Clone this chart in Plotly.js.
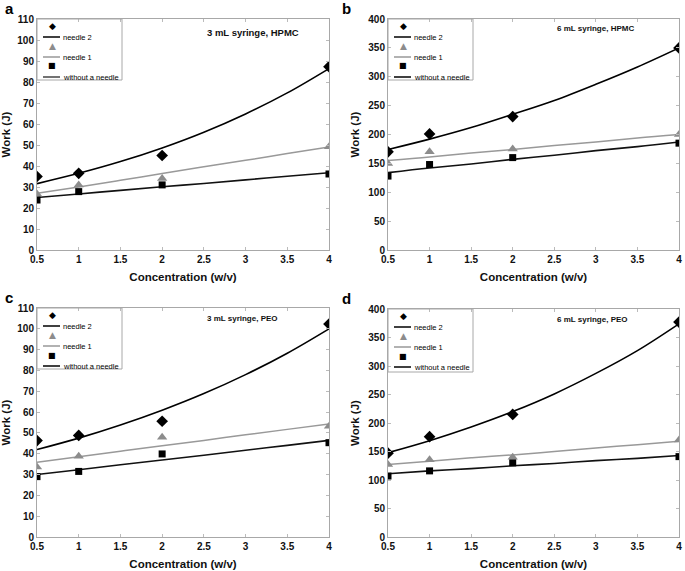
<!DOCTYPE html>
<html>
<head>
<meta charset="utf-8">
<script src="https://cdn.plot.ly/plotly-3.0.1.min.js"></script>
<style>html,body{margin:0;padding:0;background:#fff}#chart{width:685px;height:571px}</style>
</head>
<body>
<div id="chart"></div>
<script>
// ---- data ----
const conc = [0.5, 1, 2, 4];
const fitX = [0.5, 1, 1.5, 2, 2.5, 3, 3.5, 4];
const xTicks = [0.5, 1, 1.5, 2, 2.5, 3, 3.5, 4];
const xTickText = ['0.5', '1', '1.5', '2', '2.5', '3', '3.5', '4'];
const seriesNames = ['needle 2', 'needle 1', 'without a needle'];
const panelLetters = ['a', 'b', 'c', 'd'];
const panelTitles = ['3 mL syringe, HPMC', '6 mL syringe, HPMC', '3 mL syringe, PEO', '6 mL syringe, PEO'];

const a_needle2 = [35, 36.5, 45, 87.3];
const a_needle1 = [26.7, 31, 34, 49.2];
const a_without = [23.8, 27.8, 31, 36.2];
const a_fit_needle2 = [31.6, 36.5, 42.1, 48.6, 56.1, 64.8, 74.8, 86.4];
const a_fit_needle1 = [27, 30, 33.2, 36.4, 39.6, 42.7, 45.9, 49];
const a_fit_without = [25, 26.7, 28.4, 30.1, 31.7, 33.4, 35.1, 36.8];

const b_needle2 = [170, 201, 231, 350];
const b_needle1 = [150, 170, 175, 200];
const b_without = [128, 148, 160, 185];
const b_fit_needle2 = [174, 192, 212, 235, 259, 287, 317, 350];
const b_fit_needle1 = [155, 161, 168, 174, 181, 187, 194, 200];
const b_fit_without = [134, 142, 149, 157, 164, 172, 179, 187];

const c_needle2 = [46.3, 48.8, 55.6, 102.3];
const c_needle1 = [33.6, 38.8, 47.9, 53.2];
const c_without = [29, 31.5, 39.9, 45.3];
const c_fit_needle2 = [42, 47.5, 53.8, 60.9, 68.9, 78, 88.3, 100];
const c_fit_needle1 = [35.9, 38.5, 41.2, 43.8, 46.4, 49.1, 51.7, 54.3];
const c_fit_without = [30, 32.3, 34.7, 37, 39.3, 41.7, 44, 46.4];

const d_needle2 = [147, 176, 215, 377];
const d_needle1 = [127, 135.5, 140, 170];
const d_without = [107, 116, 130, 141];
const d_fit_needle2 = [148, 169, 193, 220, 251, 287, 327, 374];
const d_fit_needle1 = [127, 133, 139, 144, 150, 156, 162, 168];
const d_fit_without = [111, 116, 120, 125, 129, 134, 138, 143];

const yRanges = [[0, 110], [0, 400], [0, 110], [0, 400]];
const yDticks = [10, 50, 10, 50];

// ---- layout geometry (pixels) ----
const W = 685, H = 571;
const boxes = [
  {l: 37, r: 329, t: 19, b: 250},
  {l: 388, r: 679, t: 19, b: 250},
  {l: 37, r: 329, t: 308, b: 537},
  {l: 388, r: 679, t: 309, b: 537}
];
const px = v => v / W;
const py = v => 1 - v / H;

const panels = [
  {pts: [a_needle2, a_needle1, a_without], fits: [a_fit_needle2, a_fit_needle1, a_fit_without]},
  {pts: [b_needle2, b_needle1, b_without], fits: [b_fit_needle2, b_fit_needle1, b_fit_without]},
  {pts: [c_needle2, c_needle1, c_without], fits: [c_fit_needle2, c_fit_needle1, c_fit_without]},
  {pts: [d_needle2, d_needle1, d_without], fits: [d_fit_needle2, d_fit_needle1, d_fit_without]}
];

const lineColors = ['#000000', '#999999', '#111111'];
const markerColors = ['#000000', '#8c8c8c', '#000000'];
const markerSymbols = ['diamond', 'triangle-up', 'square'];
const markerSizes = [9, 9, 7];
const legendGlyphs = ['◆', '▲', '■'];
const FONT = 'Liberation Sans, Arial, sans-serif';

const traces = [];
const layout = {
  width: W, height: H,
  margin: {l: 0, r: 0, t: 0, b: 0},
  paper_bgcolor: '#ffffff', plot_bgcolor: '#ffffff',
  showlegend: false,
  font: {family: FONT, color: '#111'},
  shapes: [], annotations: []
};

panels.forEach((p, i) => {
  const n = i + 1;
  const xa = n === 1 ? 'x' : 'x' + n;
  const ya = n === 1 ? 'y' : 'y' + n;
  const bx = boxes[i];
  const axisCommon = {
    showline: true, mirror: 'ticks', linecolor: '#a8a8a8', linewidth: 1,
    ticks: 'inside', ticklen: 3, tickcolor: '#bbbbbb',
    showgrid: false, zeroline: false,
    tickfont: {family: FONT, size: 10, color: '#111', weight: 'bold'}
  };
  layout['xaxis' + (n === 1 ? '' : n)] = Object.assign({}, axisCommon, {
    domain: [px(bx.l), px(bx.r)], anchor: ya, range: [0.5, 4],
    tickmode: 'array', tickvals: xTicks, ticktext: xTickText,
    title: {text: 'Concentration (w/v)', font: {family: FONT, size: 11.5, color: '#111', weight: 'bold'}, standoff: 8}
  });
  layout['yaxis' + (n === 1 ? '' : n)] = Object.assign({}, axisCommon, {
    domain: [py(bx.b), py(bx.t)], anchor: xa, range: yRanges[i], dtick: yDticks[i],
    title: {text: 'Work (J)', font: {family: FONT, size: 11.5, color: '#111', weight: 'bold'}, standoff: 6}
  });

  for (let s = 0; s < 3; s++) {
    traces.push({
      x: fitX, y: p.fits[s], xaxis: xa, yaxis: ya, type: 'scatter', mode: 'lines',
      line: {color: lineColors[s], width: s === 1 ? 1.5 : 1.6, shape: 'spline'},
      name: seriesNames[s], hoverinfo: 'skip'
    });
  }
  for (let s = 0; s < 3; s++) {
    const tr = {
      x: conc, y: p.pts[s], xaxis: xa, yaxis: ya, type: 'scatter', mode: 'markers',
      marker: {symbol: markerSymbols[s], size: markerSizes[s], color: markerColors[s]},
      name: seriesNames[s]
    };
    if (s === 0) tr.error_y = {type: 'constant', value: yRanges[i][1] * 0.012, color: '#000', thickness: 1.2, width: 0};
    traces.push(tr);
  }

  // panel letter and title
  layout.annotations.push({
    xref: 'paper', yref: 'paper', x: px(bx.l - 34 + (i % 2 ? -14 : 0)), y: py(bx.t - 11),
    text: panelLetters[i], showarrow: false, xanchor: 'left', yanchor: 'middle',
    font: {family: FONT, size: 15, color: '#000', weight: 'bold'}
  });
  const titleX = i % 2 ? bx.l + 167 : bx.l + 168;
  layout.annotations.push({
    xref: 'paper', yref: 'paper', x: px(titleX), y: py(bx.t + (i === 0 ? 14 : 10)),
    text: panelTitles[i], showarrow: false, xanchor: 'left', yanchor: 'middle',
    font: {family: FONT, size: i === 0 ? 9.5 : 8, color: '#111', weight: 'bold'}
  });

  // manual legend
  const lx = bx.l, ly = bx.t;
  const lw = 85, lh = i === 3 ? 63 : 61;
  layout.shapes.push({type: 'rect', xref: 'paper', yref: 'paper',
    x0: px(lx), x1: px(lx + lw), y0: py(ly), y1: py(ly + lh),
    line: {color: '#a8a8a8', width: 1}, fillcolor: 'rgba(255,255,255,0)'});
  const rowMarker = [7, 27, 47], rowLine = [18, 38, 58];
  for (let s = 0; s < 3; s++) {
    layout.annotations.push({
      xref: 'paper', yref: 'paper', x: px(lx + 15), y: py(ly + rowMarker[s]),
      text: legendGlyphs[s], showarrow: false, xanchor: 'center', yanchor: 'middle',
      font: {family: 'DejaVu Sans', size: s === 2 ? 8 : 9, color: markerColors[s]}
    });
    layout.shapes.push({type: 'line', xref: 'paper', yref: 'paper',
      x0: px(lx + 6), x1: px(lx + 23), y0: py(ly + rowLine[s]), y1: py(ly + rowLine[s]),
      line: {color: s === 1 ? '#999' : (s === 2 && i === 0 ? '#444' : '#000'), width: 1.5}});
    layout.annotations.push({
      xref: 'paper', yref: 'paper', x: px(lx + 24), y: py(ly + rowLine[s]),
      text: seriesNames[s], showarrow: false, xanchor: 'left', yanchor: 'middle',
      font: {family: FONT, size: 7.5, color: '#000'}
    });
  }
});

Plotly.newPlot('chart', traces, layout, {displayModeBar: false, staticPlot: true});
</script>
</body>
</html>
